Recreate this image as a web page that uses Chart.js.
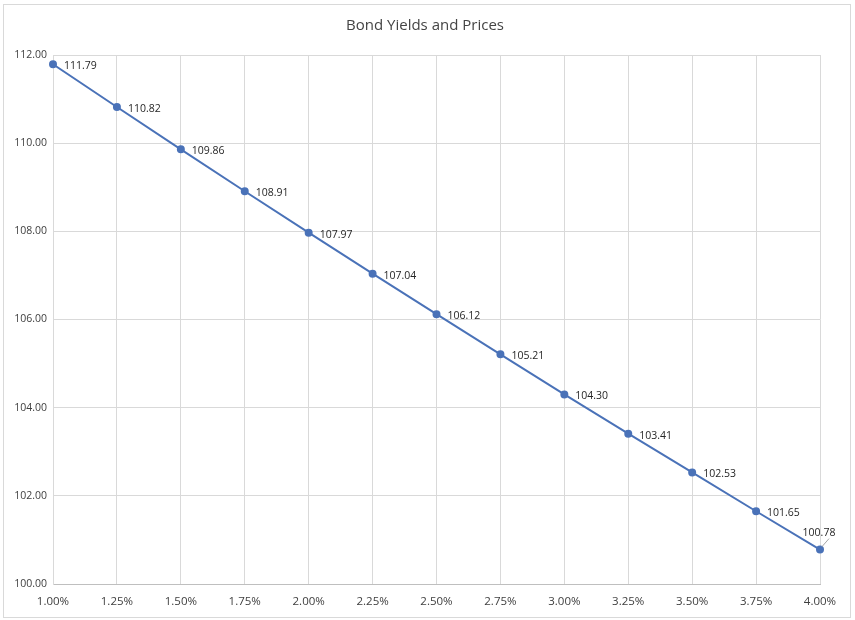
<!DOCTYPE html>
<html>
<head>
<meta charset="utf-8">
<script src="https://cdn.jsdelivr.net/npm/chart.js@4"></script>
<style>
html,body{margin:0;padding:0;background:#fff;}
#wrap{width:855px;height:620px;position:relative;}
</style>
</head>
<body>
<div id="wrap"><canvas id="c" width="855" height="620"></canvas></div>
<script>
const chartTitle = "Bond Yields and Prices";
const yields = ["1.00%","1.25%","1.50%","1.75%","2.00%","2.25%","2.50%","2.75%","3.00%","3.25%","3.50%","3.75%","4.00%"];
const prices = [111.79,110.82,109.86,108.91,107.97,107.04,106.12,105.21,104.30,103.41,102.53,101.65,100.78];
const yMin = 100, yMax = 112, yStep = 2;

const FONT = "'Open Sans', 'Liberation Sans', sans-serif";

const frame = {
  id: 'frame',
  beforeDraw(chart) {
    const ctx = chart.ctx;
    ctx.save();
    ctx.fillStyle = '#fff';
    ctx.fillRect(0, 0, chart.width, chart.height);
    ctx.strokeStyle = '#d9d9d9';
    ctx.lineWidth = 1;
    ctx.strokeRect(3.5, 4.5, 847, 613);
    ctx.fillStyle = '#444444';
    ctx.font = "15px " + FONT;
    ctx.textAlign = 'center';
    ctx.textBaseline = 'middle';
    ctx.fillText(chartTitle, 425, 26);
    ctx.restore();
  }
};

const labels = {
  id: 'labels',
  afterDatasetsDraw(chart) {
    const ctx = chart.ctx;
    const meta = chart.getDatasetMeta(0);
    ctx.save();
    ctx.font = "10.5px " + FONT;
    ctx.fillStyle = '#262626';
    ctx.textBaseline = 'middle';
    const n = meta.data.length;
    meta.data.forEach((pt, i) => {
      const txt = prices[i].toFixed(2);
      if (i === n - 1) {
        ctx.strokeStyle = '#a6a6a6';
        ctx.lineWidth = 1;
        ctx.beginPath();
        ctx.moveTo(pt.x + 2, pt.y - 3);
        ctx.lineTo(pt.x + 9, pt.y - 11);
        ctx.stroke();
        ctx.textAlign = 'center';
        ctx.fillText(txt, pt.x - 1, pt.y - 17);
      } else {
        ctx.textAlign = 'left';
        ctx.fillText(txt, pt.x + 11, pt.y + 2);
      }
    });
    ctx.restore();
  }
};

new Chart(document.getElementById('c'), {
  type: 'line',
  data: {
    labels: yields,
    datasets: [{
      data: prices,
      borderColor: '#4a72b8',
      backgroundColor: '#4a72b8',
      borderWidth: 2,
      pointRadius: 3,
      pointHoverRadius: 3,
      tension: 0,
      fill: false
    }]
  },
  options: {
    responsive: false,
    animation: false,
    layout: { padding: { left: 0, right: 35, top: 55, bottom: 0 } },
    plugins: { legend: { display: false }, title: { display: false }, tooltip: { enabled: false } },
    scales: {
      x: {
        type: 'category',
        offset: false,
        grid: { color: '#d9d9d9', drawTicks: false, lineWidth: 1 },
        border: { color: '#bfbfbf' },
        ticks: { color: '#404040', font: { size: 11.5, family: FONT }, padding: 11, maxRotation: 0, autoSkip: false },
        afterFit(s) { s.height = 36; }
      },
      y: {
        min: yMin, max: yMax,
        grid: { color: '#d9d9d9', drawTicks: false, lineWidth: 1 },
        border: { color: '#d9d9d9' },
        ticks: { stepSize: yStep, color: '#404040', font: { size: 10.5, family: FONT }, padding: 6,
                 callback: v => Number(v).toFixed(2) },
        afterFit(s) { s.width = 53; }
      }
    }
  },
  plugins: [frame, labels]
});
</script>
</body>
</html>
